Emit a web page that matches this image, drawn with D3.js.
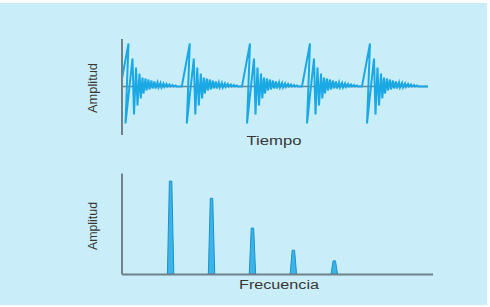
<!DOCTYPE html>
<html>
<head>
<meta charset="utf-8">
<script src="https://cdn.jsdelivr.net/npm/d3@7"></script>
<style>
  body { margin: 0; background: #fff; }
  text { font-family: "Liberation Sans", Arial, sans-serif; fill: #383838; }
</style>
</head>
<body>
<div id="chart"></div>
<script>
// datos
var burstOnsets = [-1, 60.3, 120.5, 180.5, 240.5];          // inicio de cada golpe (tiempo)
var burstTime = [0, 8, 5, 12, 13.5, 15.5, 17, 19, 20.3, 22, 23, 25, 26, 28, 29, 31, 32, 34, 35,
                 37, 38, 40, 41, 43, 44, 46, 47, 49, 50, 52, 53, 55, 56];
var burstAmp  = [0, 43, -37, 28, -28, 19, -19, 13, -12, 9, -7, 8, -4, 7, -3, 6, -2, 5, -2,
                 4, -1, 3.5, -1, 3, -0.5, 2.5, 0, 2, 0, 1.5, 0, 1, 0];
var timeEnd = 306.5;

var harmonics = [1, 2, 3, 4, 5];
var harmonicAmp = [0.92, 0.75, 0.455, 0.235, 0.13];

var yLabel = "Amplitud";
var xLabelTop = "Tiempo";
var xLabelBottom = "Frecuencia";

var width = 490, height = 307;
var lineColor = "#1ba9e5";
var axisColor = "#6f8189";

var svg = d3.select("#chart").append("svg")
  .attr("width", width)
  .attr("height", height);

//fondo celeste
svg.append("rect")
  .attr("x", 0).attr("y", 3)
  .attr("width", 487).attr("height", 302)
  .attr("fill", "#c9edf9");

// ---- grafico superior (tiempo) ----
var xT = d3.scaleLinear().domain([0, 307]).range([121.5, 428.5]);
var yT = d3.scaleLinear().domain([-48, 48]).range([134.5, 38.5]);

var signal = [];
burstOnsets.forEach(function (t0) {
  burstTime.forEach(function (dt, i) {
    signal.push([t0 + dt, burstAmp[i]]);
  });
});
signal.push([timeEnd, 0]);

svg.append("clipPath").attr("id", "clipTop")
  .append("rect")
  .attr("x", xT(0)).attr("y", 0)
  .attr("width", xT(307) - xT(0)).attr("height", 160);

//eje cero
svg.append("line")
  .attr("x1", xT(0)).attr("x2", xT(timeEnd))
  .attr("y1", yT(0)).attr("y2", yT(0))
  .attr("stroke", axisColor).attr("stroke-width", 1.6);

svg.append("path")
  .datum(signal)
  .attr("clip-path", "url(#clipTop)")
  .attr("fill", "none")
  .attr("stroke", lineColor)
  .attr("stroke-width", 2)
  .attr("stroke-linejoin", "miter")
  .attr("d", d3.line().x(function (d) { return xT(d[0]); }).y(function (d) { return yT(d[1]); }));

var axT = svg.append("g")
  .attr("transform", "translate(" + xT(0) + ",0)")
  .call(d3.axisLeft(yT).ticks(0).tickSizeOuter(0));
axT.select(".domain").attr("stroke", axisColor).attr("stroke-width", 2);

svg.append("text")
  .attr("x", 274).attr("y", 145)
  .attr("text-anchor", "middle")
  .attr("font-size", 12.5)
  .attr("textLength", 55)
  .attr("lengthAdjust", "spacingAndGlyphs")
  .text(xLabelTop);

svg.append("text")
  .attr("transform", "translate(96.5,88) rotate(-90)")
  .attr("text-anchor", "middle")
  .attr("font-size", 12.5)
  .attr("textLength", 50)
  .attr("lengthAdjust", "spacingAndGlyphs")
  .text(yLabel);

// ---- grafico inferior (frecuencia) ----
var xF = d3.scaleLinear().domain([-0.2, 7.4]).range([121.5, 432.5]);
var yF = d3.scaleLinear().domain([0, 1]).range([274, 173]);

svg.selectAll(".spike")
  .data(harmonics)
  .enter()
  .append("path")
  .attr("class", "spike")
  .attr("fill", "#3db4e8")
  .attr("stroke", "#1a93cf")
  .attr("stroke-width", 1)
  .attr("d", function (d, i) {
    var cx = xF(d), top = yF(harmonicAmp[i]), base = yF(0);
    return "M" + (cx - 3.2) + "," + base + "L" + (cx - 1.2) + "," + top +
      "L" + (cx + 1.2) + "," + top + "L" + (cx + 3.2) + "," + base + "Z";
  });

var axFx = svg.append("g")
  .attr("transform", "translate(0," + yF(0) + ")")
  .call(d3.axisBottom(xF).ticks(0).tickSizeOuter(0));
axFx.select(".domain").attr("stroke", axisColor).attr("stroke-width", 2);

var axFy = svg.append("g")
  .attr("transform", "translate(" + xF(-0.2) + ",0)")
  .call(d3.axisLeft(yF).ticks(0).tickSizeOuter(0));
axFy.select(".domain").attr("stroke", axisColor).attr("stroke-width", 2);

svg.append("text")
  .attr("x", 279).attr("y", 288.5)
  .attr("text-anchor", "middle")
  .attr("font-size", 12.5)
  .attr("textLength", 80)
  .attr("lengthAdjust", "spacingAndGlyphs")
  .text(xLabelBottom);

svg.append("text")
  .attr("transform", "translate(97,226) rotate(-90)")
  .attr("text-anchor", "middle")
  .attr("font-size", 12.5)
  .attr("textLength", 48)
  .attr("lengthAdjust", "spacingAndGlyphs")
  .text(yLabel);
</script>
</body>
</html>
